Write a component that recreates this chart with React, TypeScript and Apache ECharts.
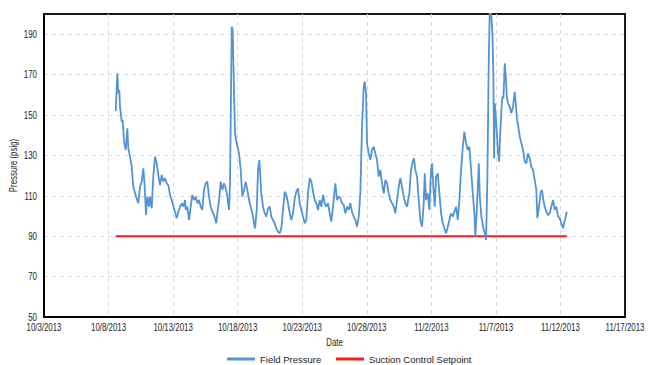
import React, { useEffect, useRef } from "react";
import * as echarts from "echarts";

// x values: days since 10/3/2013 00:00
const startYear = 2013;
const startMonth = 9; // October (0-based)
const startDay = 3;

const xTickDays = [0, 5, 10, 15, 20, 25, 30, 35, 40, 45];
const yTickValues = [50, 70, 90, 110, 130, 150, 170, 190];

const fieldDays = [
  5.554, 5.678, 5.755, 5.833, 5.887, 6.019, 6.096, 6.197, 6.328, 6.452, 6.53, 6.662, 6.793, 6.917,
  7.126, 7.304, 7.436, 7.568, 7.692, 7.8, 7.901, 8.002, 8.133, 8.211, 8.342, 8.466, 8.598, 8.73,
  8.854, 8.985, 9.117, 9.241, 9.373, 9.504, 9.628, 9.76, 9.892, 10.07, 10.279, 10.403, 10.535,
  10.666, 10.79, 10.922, 10.976, 11.1, 11.232, 11.363, 11.487, 11.619, 11.751, 11.875, 12.006,
  12.138, 12.262, 12.394, 12.525, 12.649, 12.781, 12.913, 13.037, 13.168, 13.346, 13.424, 13.556,
  13.687, 13.811, 13.943, 14.075, 14.199, 14.33, 14.408, 14.462, 14.54, 14.617, 14.718, 14.795,
  14.927, 15.105, 15.236, 15.36, 15.492, 15.623, 15.747, 15.879, 16.011, 16.135, 16.267, 16.344,
  16.476, 16.577, 16.677, 16.832, 16.964, 17.096, 17.22, 17.351, 17.483, 17.607, 17.739, 17.87,
  17.994, 18.126, 18.258, 18.382, 18.513, 18.645, 18.769, 18.9, 19.032, 19.156, 19.288, 19.419,
  19.543, 19.675, 19.806, 19.93, 20.062, 20.194, 20.318, 20.449, 20.581, 20.705, 20.837, 20.968,
  21.092, 21.224, 21.356, 21.48, 21.611, 21.743, 21.867, 21.999, 22.13, 22.254, 22.386, 22.564,
  22.696, 22.827, 22.951, 23.083, 23.215, 23.339, 23.47, 23.602, 23.726, 23.858, 23.989, 24.113,
  24.245, 24.377, 24.501, 24.632, 24.764, 24.842, 24.942, 25.02, 25.152, 25.276, 25.407, 25.539,
  25.663, 25.794, 25.926, 26.05, 26.181, 26.313, 26.437, 26.569, 26.7, 26.824, 26.956, 27.088,
  27.212, 27.343, 27.475, 27.599, 27.731, 27.862, 27.986, 28.118, 28.296, 28.428, 28.56, 28.66,
  28.761, 28.893, 29.025, 29.149, 29.28, 29.412, 29.49, 29.591, 29.722, 29.846, 29.978, 30.055,
  30.156, 30.264, 30.368, 30.5, 30.624, 30.755, 30.887, 31.011, 31.143, 31.274, 31.398, 31.53,
  31.662, 31.786, 31.917, 32.049, 32.173, 32.304, 32.436, 32.56, 32.692, 32.823, 32.947, 33.079,
  33.211, 33.335, 33.412, 33.521, 33.598, 33.676, 33.753, 33.877, 34.009, 34.141, 34.241, 34.342,
  34.45, 34.528, 34.652, 34.729, 34.807, 34.861, 34.915, 34.992, 35.093, 35.17, 35.248, 35.325,
  35.426, 35.503, 35.581, 35.689, 35.767, 35.844, 35.941, 36.073, 36.197, 36.329, 36.46, 36.538,
  36.639, 36.716, 36.848, 36.972, 37.103, 37.235, 37.359, 37.491, 37.622, 37.746, 37.878, 38.01,
  38.134, 38.211, 38.342, 38.474, 38.575, 38.676, 38.784, 38.908, 39.04, 39.171, 39.295, 39.427,
  39.559, 39.683, 39.814, 39.946, 40.07, 40.201, 40.279, 40.38, 40.488,
];

const fieldPsig = [
  152, 170.6, 160.7, 162.4, 154.1, 146.7, 147.5, 136.8, 132.7, 143.4, 133.5, 129.4, 124.4, 114.5,
  109.6, 106.3, 114.5, 117, 123.6, 114.5, 100.5, 109.6, 104.6, 109.6, 103.8, 119.5, 129.4, 126.1,
  120.3, 115.3, 120.3, 117, 118.7, 116.2, 115.3, 110.4, 107.9, 103.8, 98.9, 102.1, 104.6,
  106.3, 104.6, 107.9, 103, 104.6, 98, 104.6, 110.4, 107.9, 109.6, 106.3, 107.9,
  104.6, 103, 112.9, 116.2, 117, 109.6, 104.6, 102.1, 100.5, 96.4, 101.3, 107.9,
  117, 112.9, 116.2, 113.7, 109.6, 103, 116.2, 147.5, 193.7, 192.1, 160.7, 140.9,
  136, 131, 122.8, 109.6, 112.9, 117, 112.9, 107.9, 104.6, 101.3, 96.4, 93.9,
  103, 122.8, 127.7, 111.2, 104.6, 101.3, 99.7, 103.8, 104.6, 99.7, 98, 96.4,
  93.9, 92.2, 91.4, 93.9, 103, 112, 110.4, 106.3, 101.3, 98, 101.3, 108.8,
  112, 113.7, 106.3, 103, 99.7, 96.4, 98, 111.2, 118.7, 117, 112, 107.9,
  106.3, 103, 107.9, 104.6, 110.4, 106.3, 104.6, 106.3, 101.3, 97.2, 104.6, 116.2,
  107.9, 109.6, 108.8, 106.3, 105.5, 101.3, 104.6, 103, 106.3, 102.1, 99.7, 98,
  94.7, 99.7, 111.2, 144.2, 164, 166.5, 160.7, 136, 131, 127.7, 132.7, 134.3,
  131, 127.7, 119.5, 122.8, 116.2, 111.2, 117.8, 116.2, 111.2, 107.9, 106.3, 104.6,
  101.3, 107.9, 114.5, 118.7, 114.5, 109.6, 106.3, 104.6, 111.2, 122.8, 126.9, 128.6,
  122.8, 119.5, 107.9, 98, 94.7, 106.3, 121.1, 107.9, 111.2, 103, 122.8, 126.1,
  114.5, 104.6, 119.5, 121.1, 111.2, 101.3, 96.4, 93.9, 91.4, 94.7, 98, 101.3,
  99.7, 102.1, 104.6, 98, 107.9, 122.8, 134.3, 141.7, 136, 132.7, 134.3, 122.8,
  111.2, 101.3, 89.5, 103, 114.5, 126.1, 109.6, 99.7, 94.7, 91.4, 88.1, 119.5,
  177.2, 203, 198.7, 190.4, 169, 128.6, 155.8, 149.2, 139.3, 131, 126.9, 139.3,
  152.5, 159.1, 158.3, 175.6, 169, 159.1, 155.8, 154.1, 150.8, 154.1, 161.5, 155.8,
  147.5, 145, 139.3, 136, 132.7, 126.9, 126.1, 131, 128.6, 124.4, 122.8, 117.8,
  112.9, 98.9, 104.6, 112, 112.9, 107.9, 104.6, 102.1, 100.5, 101.3, 104.6, 107.9,
  103, 104.6, 99.7, 98.9, 96.4, 93.9, 96.4, 98.9, 102.1,
];

const setpointDays = [5.55, 40.5];
const setpointPsig = [90, 90];

const seriesNames = ["Field Pressure", "Suction Control Setpoint"];
const xAxisName = "Date";
const yAxisName = "Pressure (psig)";

const FONT = "'Liberation Sans', Arial, sans-serif";
const TXT = "#1e1e1e";
const NARROW = 0.75;
const FS = 10.5;

function dayLabel(v: number): string {
  const d = new Date(startYear, startMonth, startDay + Math.round(v));
  return `${d.getMonth() + 1}/${d.getDate()}/${d.getFullYear()}`;
}

export default function App() {
  const ref = useRef<HTMLDivElement>(null);
  useEffect(() => {
    if (!ref.current) return;
    const chart = echarts.init(ref.current, undefined, { renderer: "svg" });
    const fieldData = fieldDays.map((d, i) => [d, fieldPsig[i]]);
    const setData = setpointDays.map((d, i) => [d, setpointPsig[i]]);
    const split = {
      show: true,
      showMinLine: false,
      showMaxLine: false,
      lineStyle: { color: "#d9d9d9", type: [4, 4], width: 1 },
    };
    chart.setOption({
      animation: false,
      backgroundColor: "#ffffff",
      textStyle: { fontFamily: FONT },
      grid: {
        left: 44,
        right: 25,
        top: 14,
        bottom: 48,
        show: true,
        borderColor: "#1a1a1a",
        borderWidth: 2,
      },
      legend: [
        {
          left: 222,
          top: 349,
          itemWidth: 28,
          itemHeight: 3,
          icon: "rect",
          textStyle: { fontFamily: FONT, fontSize: 9.5, color: TXT },
          data: [seriesNames[0]],
        },
        {
          left: 331,
          top: 349,
          itemWidth: 28,
          itemHeight: 3,
          icon: "rect",
          textStyle: { fontFamily: FONT, fontSize: 9.5, color: TXT },
          data: [seriesNames[1]],
        },
      ],
      xAxis: {
        type: "value",
        min: 0,
        max: 45,
        interval: 5,
        axisLine: { show: true, lineStyle: { color: "#000", width: 2 } },
        axisTick: { show: false },
        axisLabel: { show: false },
        splitLine: split,
      },
      yAxis: {
        type: "value",
        min: 50,
        max: 200,
        interval: 20,
        axisLine: { show: true, lineStyle: { color: "#000", width: 2 } },
        axisTick: { show: false },
        axisLabel: { show: false },
        splitLine: split,
      },
      series: [
        {
          name: seriesNames[0],
          type: "line",
          data: fieldData,
          showSymbol: false,
          symbol: "none",
          lineStyle: { color: "#5394d3", width: 1.8 },
          itemStyle: { color: "#5394d3" },
          clip: true,
          z: 3,
        },
        {
          name: seriesNames[1],
          type: "line",
          data: setData,
          showSymbol: false,
          symbol: "none",
          lineStyle: { color: "#ff1a1a", width: 2 },
          itemStyle: { color: "#ff1a1a" },
          z: 2,
        },
      ],
    });

    // Axis labels and names, drawn in a condensed style at positions from the chart's own scales
    const g: any[] = [];
    const baseText = (text: string, x: number, y: number, align: string) => ({
      type: "text",
      x,
      y,
      scaleX: NARROW,
      silent: true,
      style: {
        text,
        align,
        verticalAlign: "middle",
        fontFamily: FONT,
        fontSize: FS,
        fill: TXT,
      },
    });
    const bottomPx = chart.convertToPixel({ gridIndex: 0 }, [0, 50]) as number[];
    xTickDays.forEach((v) => {
      const p = chart.convertToPixel({ gridIndex: 0 }, [v, 50]) as number[];
      g.push(baseText(dayLabel(v), p[0], p[1] + 10.5, "center"));
    });
    yTickValues.forEach((v) => {
      const p = chart.convertToPixel({ gridIndex: 0 }, [0, v]) as number[];
      g.push(baseText(String(v), p[0] - 7, p[1] + 0.5, "right"));
    });
    const mid = chart.convertToPixel({ gridIndex: 0 }, [22.5, 125]) as number[];
    g.push(baseText(xAxisName, mid[0], bottomPx[1] + 26, "center"));
    g.push({
      type: "text",
      x: bottomPx[0] - 30.5,
      y: mid[1],
      rotation: Math.PI / 2,
      scaleX: NARROW,
      silent: true,
      style: {
        text: yAxisName,
        align: "center",
        verticalAlign: "middle",
        fontFamily: FONT,
        fontSize: FS,
        fill: TXT,
      },
    });
    chart.setOption({ graphic: g });
    return () => chart.dispose();
  }, []);
  return <div ref={ref} style={{ width: 650, height: 365, position: "absolute", left: 0, top: 0 }} />;
}
